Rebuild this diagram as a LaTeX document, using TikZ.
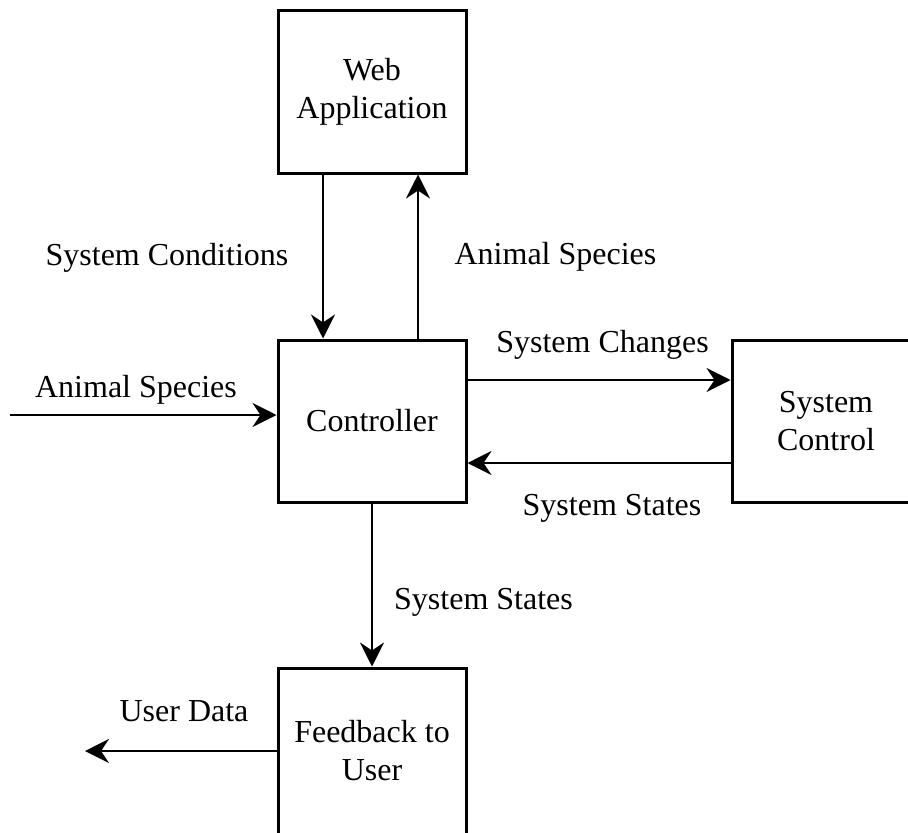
\documentclass[tikz,border=0pt]{standalone}
\usepackage{fontspec}
\setmainfont{Liberation Serif}
\usetikzlibrary{arrows.meta}
\tikzset{
  dfd box/.style={draw=black, line width=1.5pt, minimum width=94pt, minimum height=81pt, align=center, inner sep=2pt, font=\fontsize{16}{19}\selectfont},
  dfd flow/.style={draw=black, line width=1.4pt, -{Stealth[length=12pt,width=12pt,inset=4pt]}},
  dfd label/.style={anchor=base, inner sep=0pt, font=\fontsize{16}{19}\selectfont},
}

\begin{document}
\begin{tikzpicture}[x=0.5pt,y=0.5pt]
  \useasboundingbox (0,0) rectangle (908,832);
  % blocks
  \node[dfd box] (web) at (372,740) {Web\\Application};
  \node[dfd box] (ctrl) at (372,411) {Controller};
  \node[dfd box] (sysctl) at (826,411) {System\\Control};
  \node[dfd box, minimum height=83pt] (fb) at (372,81) {Feedback to\\User};
  \coordinate (src) at (10,417);
  \coordinate (sink) at (85,81);
  % flows
  \draw[dfd flow] ([xshift=-24.5pt]web.south) -- ([xshift=-24.5pt]ctrl.north);
  \draw[dfd flow] ([xshift=23pt]ctrl.north) -- ([xshift=23pt]web.south);
  \draw[dfd flow] (src) -- (src -| ctrl.west);
  \draw[dfd flow] ([yshift=20.5pt]ctrl.east) -- ([yshift=20.5pt]sysctl.west);
  \draw[dfd flow] ([yshift=-21pt]sysctl.west) -- ([yshift=-21pt]ctrl.east);
  \draw[dfd flow] (ctrl.south) -- (fb.north);
  \draw[dfd flow] (fb.west) -- (sink);
  % labels
  \node[dfd label] (lcond) at (167,567) {System Conditions};
  \node[dfd label] (lspup) at (555.5,568) {Animal Species};
  \node[dfd label] (lspin) at (136,435) {Animal Species};
  \node[dfd label] (lchg) at (602.5,480) {System Changes};
  \node[dfd label] (lstr) at (612,317) {System States};
  \node[dfd label] (lstd) at (483.5,223) {System States};
  \node[dfd label] (ludat) at (184,111) {User Data};
\end{tikzpicture}
\end{document}
